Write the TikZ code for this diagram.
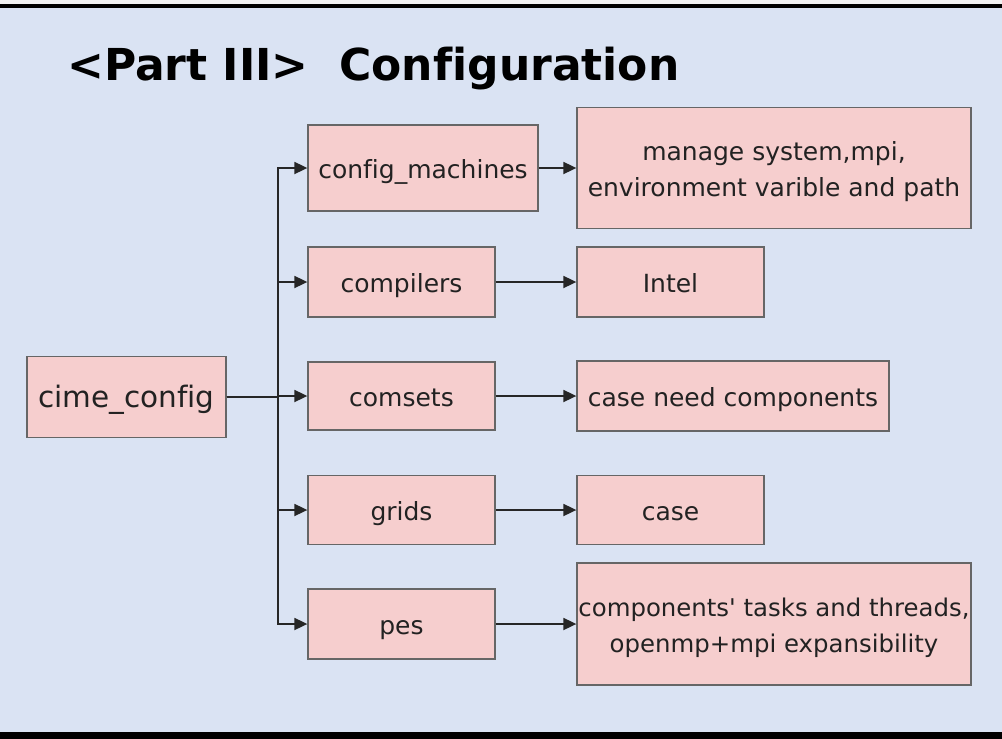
\documentclass[tikz,border=0pt]{standalone}
\usepackage{fontspec}
\setmainfont[Ligatures={NoCommon,TeXOff}]{DejaVu Sans}
\usepackage{tikz}
\usetikzlibrary{positioning,shapes,arrows.meta}
\definecolor{bgblue}{HTML}{DAE3F3}
\definecolor{boxpink}{HTML}{F6CECE}
\definecolor{boxline}{HTML}{666666}
\definecolor{txt}{HTML}{222222}
\tikzstyle{squared} = [rectangle, draw=boxline, line width=1.3pt, fill=boxpink, text=txt, text centered, inner sep=0pt, text height=27pt, text depth=6pt, font=\fontsize{25}{36}\selectfont]
\tikzstyle{twoline} = [align=center, text height=63pt]
\tikzstyle{connect} = [line width=1.8pt, draw=black!85, -{Triangle[length=13pt,width=12pt]}]

\begin{document}
\begin{tikzpicture}[x=1pt,y=-1pt]
			\useasboundingbox (0,0) rectangle (1002,739);
			\fill[black!5] (0,0) rectangle (1002,4);
			\fill[black] (0,4) rectangle (1002,8);
			\fill[bgblue] (0,8) rectangle (1002,732);
			\fill[black] (0,732) rectangle (1002,739);
			\node (title) [anchor=base west, inner sep=0pt] at (67,80) {\fontsize{44}{50}\selectfont\bfseries <Part III>\ \ Configuration};
			%-----------------------------------------------
			\node (cime) [squared, minimum width=199pt, minimum height=81pt, font=\fontsize{29.5}{34}\selectfont] at (126.5,397) {cime\_config};
			\node (machines) [squared, minimum width=230pt, minimum height=86pt] at (423,168) {config\_machines};
			\node (compilers) [squared, minimum width=187pt, minimum height=70pt] at (401.5,282) {compilers};
			\node (comsets) [squared, minimum width=187pt, minimum height=68pt] at (401.5,396) {comsets};
			\node (grids) [squared, minimum width=187pt, minimum height=69pt] at (401.5,510) {grids};
			\node (pes) [squared, minimum width=187pt, minimum height=70pt] at (401.5,624) {pes};
			%-----------------------------------------------
			\node (manage) [squared, twoline, minimum width=394pt, minimum height=121pt] at (774,168) {manage system,mpi,\\environment varible and path};
			\node (intel) [squared, minimum width=187pt, minimum height=70pt] at (670.5,282) {Intel};
			\node (need) [squared, minimum width=312pt, minimum height=70pt] at (733,396) {case need components};
			\node (case) [squared, minimum width=187pt, minimum height=69pt] at (670.5,510) {case};
			\node (tasks) [squared, twoline, minimum width=394pt, minimum height=122pt, font=\fontsize{24.4}{36}\selectfont] at (774,624) {components' tasks and threads,\\openmp+mpi expansibility};
			%-----------------------------------------------
			\coordinate (trunk) at (278,397);
			\foreach \n in {machines,compilers,comsets,grids,pes}
				\draw [connect] (cime.east) -- (trunk) |- (\n.west);
			\draw [connect] (machines) -- (manage);
			\draw [connect] (compilers) -- (intel);
			\draw [connect] (comsets) -- (need);
			\draw [connect] (grids) -- (case);
			\draw [connect] (pes) -- (tasks);
			\end{tikzpicture}
\end{document}
